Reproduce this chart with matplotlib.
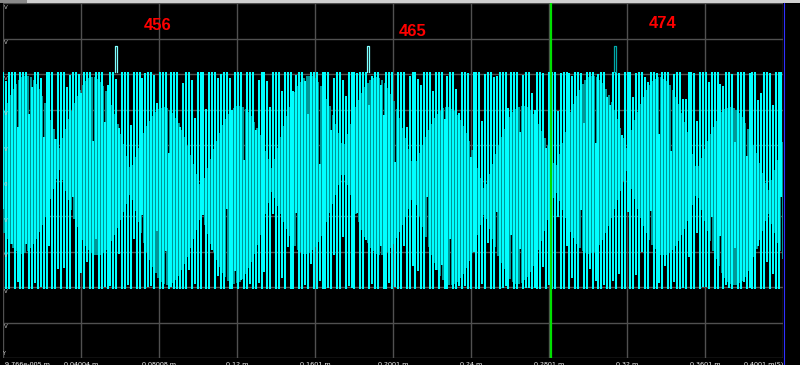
import numpy as np
import matplotlib
matplotlib.use('Agg')
import matplotlib.pyplot as plt

# time axis (ms, shown as "m" on the scope), grid labels as printed
tick_times = [0.0, 0.04004, 0.08008, 0.12, 0.1601, 0.2001, 0.24, 0.2801, 0.32, 0.3601, 0.4001]
tick_labels = ['9.766e-005 m', '0.04004 m', '0.08008 m', '0.12 m', '0.1601 m', '0.2001 m',
               '0.24 m', '0.2801 m', '0.32 m', '0.3601 m', '0.4001 m(S)']
volt_grid = [-5, -4, -3, -2, -1, 0, 1, 2, 3, 4, 5]
volt_labels = ['', 'V', 'V', 'V', 'V', '0', 'V', 'V', 'V', 'V', 'V']

# signal levels
v_high = 3.05
v_low = -3.05
# scope columns and the beats between carrier and sample rate
bar_step = 0.00149      # ms between drawn columns
beat_top = 0.231        # cycles per column, top edge dips
beat_bot = 0.377        # cycles per column, bottom edge dips
dip_depth = 2.6
beat_dim = 0.0205
amp_dim = 2.2

# glitches marked by the counts
spike_times = [0.0575, 0.1867, 0.3134]
spike_top = 3.78
spike_colors = ['#7fffff', '#7fffff', '#00a8a8']
count_labels = ['456', '465', '474']
count_pos = [(0.0794, 4.37), (0.2103, 4.2), (0.3385, 4.42)]
cursor_time = 0.2813

fig = plt.figure(figsize=(8, 3.65), dpi=100, facecolor='black')
ax = fig.add_axes([3/800, 7/365, 780/800, 355/365])
ax.set_facecolor('black')
ax.set_xlim(0, 0.4001)
ax.set_ylim(-5, 5)
for s in ax.spines.values():
    s.set_visible(False)
ax.set_xticks([])
ax.set_yticks([])

for t in tick_times:
    ax.axvline(t, color='#505050', lw=1.0, zorder=0)
for v in volt_grid:
    ax.axhline(v, color='#505050', lw=1.0, zorder=0)

k = np.arange(int(0.4001 / bar_step) + 2)

# dim teal columns (inner diamond pattern), between the bright ones
td = k * bar_step + bar_step / 2
env_d = amp_dim * np.abs(np.sin(2 * np.pi * beat_dim * k + 0.7)) + 0.3
off_d = 0.6 * np.sin(np.pi * beat_dim * k + 0.4)
ax.vlines(td, off_d - env_d, off_d + env_d, color='#009898', lw=1.3,
          antialiased=False, zorder=2)

# bright cyan columns, rail to rail with occasional short ones
tb = k * bar_step
dip_t = dip_depth * np.clip(np.sin(2 * np.pi * beat_top * k + 0.5), 0, 1) ** 4
dip_b = dip_depth * np.clip(np.sin(2 * np.pi * beat_bot * k + 1.3), 0, 1) ** 4
top = v_high - dip_t * np.abs(np.sin(2 * np.pi * beat_dim * k))
bot = v_low + dip_b * np.abs(np.cos(2 * np.pi * beat_dim * k))
ax.vlines(tb, bot, top, color='#00ffff', lw=1.3, antialiased=False, zorder=3)

for t, c in zip(spike_times, spike_colors):
    w = 0.0012
    ax.plot([t, t, t + w, t + w], [v_high, spike_top, spike_top, v_high], color=c, lw=0.9, zorder=4)

ax.axvline(cursor_time, color='#00e000', lw=1.6, zorder=5)

for txt, (x, y) in zip(count_labels, count_pos):
    ax.text(x, y, txt, color='#ff0000', fontsize=12, fontweight='bold',
            family='Liberation Sans', ha='center', va='center', zorder=6)

# bottom time labels
for i, (t, lab) in enumerate(zip(tick_times, tick_labels)):
    ha = 'left' if i == 0 else ('right' if i == len(tick_times) - 1 else 'center')
    x = t + 0.0012 if i == 0 else t
    ax.text(x, -5.1, lab, color='white', fontsize=4.6, ha=ha, va='top',
            family='DejaVu Sans', clip_on=False)
ax.text(0.0004, -4.93, 'Y', color='#cccccc', fontsize=3.6, ha='center', va='bottom',
        family='DejaVu Sans')
for v, lab in zip(volt_grid, volt_labels):
    ax.text(0.0013, v - 0.05, lab, color='#cccccc', fontsize=4, ha='center', va='top',
            family='DejaVu Sans')

# frame pieces of the scope window
fig.add_artist(plt.Rectangle((0, 362/365), 1, 3/365, transform=fig.transFigure,
                             color='#d0d0d0', lw=0))
fig.add_artist(plt.Rectangle((0, 362/365), 27/800, 3/365, transform=fig.transFigure,
                             color='#8a8a8a', lw=0))
fig.add_artist(plt.Line2D([783.5/800, 783.5/800], [0, 362/365], transform=fig.transFigure,
                          color='#3030ff', lw=0.8))

fig.savefig('out.png', dpi=100, facecolor='black')
